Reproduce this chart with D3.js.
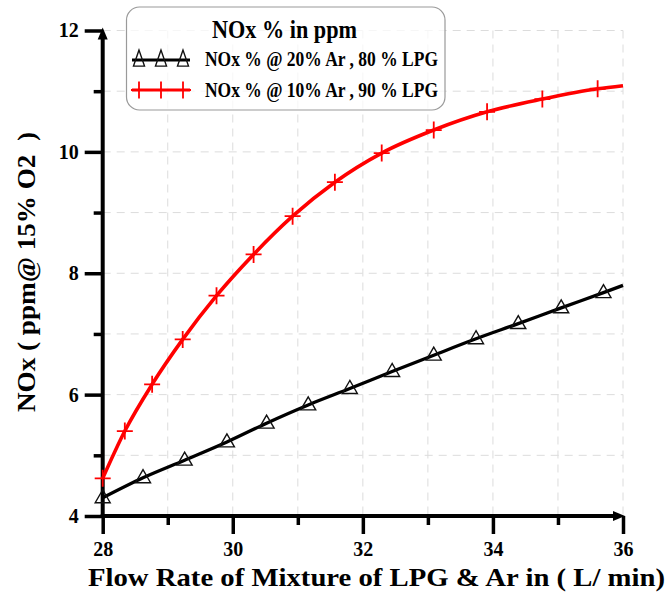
<!DOCTYPE html>
<html>
<head>
<meta charset="utf-8">
<script src="https://cdn.jsdelivr.net/npm/d3@7"></script>
<style>
  html, body { margin: 0; padding: 0; background: #fff; }
  svg { display: block; }
  text { font-family: "Liberation Serif", "Times New Roman", serif; font-weight: bold; fill: #000; }
</style>
</head>
<body>
<svg id="chart" width="671" height="595"></svg>
<script>
// ---- data ----
const xMajorTicks = [28, 30, 32, 34, 36];
const xMinorTicks = [29, 31, 33, 35];
const yMajorTicks = [4, 6, 8, 10, 12];
const yMinorTicks = [5, 7, 9, 11];
const gridX = [29, 30, 31, 32, 33, 34, 35, 36];
const gridY = [5, 6, 7, 8, 9, 10, 11, 12];

const seriesNames = ["NOx % @ 20% Ar , 80 % LPG", "NOx % @ 10% Ar , 90 % LPG"];
const legendTitle = "NOx % in ppm";
const xTitle = "Flow Rate of Mixture of LPG & Ar in ( L/ min)";
const yTitle = "NOx ( ppm@ 15% O2  )";

const flowBlack = [28.0, 28.62, 29.26, 29.91, 30.52, 31.16, 31.80, 32.45, 33.09, 33.74, 34.39, 35.05, 35.70];
const noxBlack  = [4.30, 4.63, 4.92, 5.22, 5.53, 5.83, 6.10, 6.38, 6.65, 6.92, 7.17, 7.43, 7.68];
const flowRed   = [28.0, 28.34, 28.76, 29.23, 29.75, 30.32, 30.92, 31.57, 32.29, 33.09, 33.91, 34.76, 35.61];
const noxRed    = [4.62, 5.40, 6.17, 6.91, 7.63, 8.31, 8.94, 9.50, 9.98, 10.36, 10.66, 10.87, 11.04];
const lineEndFlow = 36;
const lineEndBlack = 7.80;
const lineEndRed = 11.09;

// ---- layout ----
const svg = d3.select("#chart");
const x = d3.scaleLinear().domain([28, 36]).range([102.7, 623]);
const y = d3.scaleLinear().domain([4, 12]).range([516, 30.5]);

// grid
const grid = svg.append("g").attr("stroke", "#dcdcdc").attr("stroke-width", 1).attr("stroke-dasharray", "8,6");
grid.selectAll("line.gx").data(gridX).join("line").attr("class", "gx")
  .attr("x1", d => x(d)).attr("x2", d => x(d)).attr("y1", y(12)).attr("y2", y(4));
grid.selectAll("line.gy").data(gridY).join("line").attr("class", "gy")
  .attr("x1", x(28)).attr("x2", x(36)).attr("y1", d => y(d)).attr("y2", d => y(d));

// axes (ticks via d3 axes)
function styleAxis(g) {
  g.select(".domain").remove();
  g.selectAll(".tick line").attr("stroke", "#000").attr("stroke-width", 3.5);
  g.selectAll(".tick text").style("font-size", "20px").style("font-family", '"Liberation Serif", serif').style("font-weight", "bold");
}
svg.append("g").attr("transform", `translate(0,${y(4)})`)
  .call(d3.axisBottom(x).tickValues(xMajorTicks).tickSize(18).tickPadding(8).tickFormat(d3.format("d")))
  .call(styleAxis);
svg.append("g").attr("transform", `translate(0,${y(4)})`)
  .call(d3.axisBottom(x).tickValues(xMinorTicks).tickSize(9).tickFormat(""))
  .call(styleAxis);
svg.append("g").attr("transform", `translate(${x(28)},0)`)
  .call(d3.axisLeft(y).tickValues(yMajorTicks).tickSize(18).tickPadding(6).tickFormat(d3.format("d")))
  .call(styleAxis);
svg.append("g").attr("transform", `translate(${x(28)},0)`)
  .call(d3.axisLeft(y).tickValues(yMinorTicks).tickSize(9).tickFormat(""))
  .call(styleAxis);

// axis lines with arrows
svg.append("line").attr("x1", x(28)).attr("x2", x(28)).attr("y1", y(4) + 2).attr("y2", y(12) + 6)
  .attr("stroke", "#000").attr("stroke-width", 4);
svg.append("path").attr("d", `M${x(28)},${y(12) - 3} L${x(28) - 5},${y(12) + 9} L${x(28) + 5},${y(12) + 9} Z`).attr("fill", "#000");
svg.append("line").attr("x1", x(28) - 2).attr("x2", x(36) - 6).attr("y1", y(4)).attr("y2", y(4))
  .attr("stroke", "#000").attr("stroke-width", 4);
svg.append("path").attr("d", `M${x(36) + 2},${y(4)} L${x(36) - 10},${y(4) - 5} L${x(36) - 10},${y(4) + 5} Z`).attr("fill", "#000");

// lines
const lineGen = d3.line().x(d => x(d[0])).y(d => y(d[1])).curve(d3.curveMonotoneX);
const blackPts = flowBlack.map((f, i) => [f, noxBlack[i]]).concat([[lineEndFlow, lineEndBlack]]);
const redPts = flowRed.map((f, i) => [f, noxRed[i]]).concat([[lineEndFlow, lineEndRed]]);

svg.append("path").attr("d", lineGen(blackPts)).attr("fill", "none").attr("stroke", "#000").attr("stroke-width", 3.3);
svg.append("path").attr("d", lineGen(redPts)).attr("fill", "none").attr("stroke", "#ff0000").attr("stroke-width", 3.6);

// markers
function triPath(cx, cy, w, h) {
  return `M${cx},${cy - h * 0.62} L${cx - w / 2},${cy + h * 0.38} L${cx + w / 2},${cy + h * 0.38} Z`;
}
function crossPath(cx, cy, w, h) {
  return `M${cx - w / 2},${cy} L${cx + w / 2},${cy} M${cx},${cy - h / 2} L${cx},${cy + h / 2}`;
}
svg.append("g").selectAll("path").data(flowBlack.map((f, i) => [f, noxBlack[i]])).join("path")
  .attr("d", d => triPath(x(d[0]), y(d[1]), 15, 13))
  .attr("fill", "none").attr("stroke", "#111").attr("stroke-width", 1.4);
svg.append("g").selectAll("path").data(flowRed.map((f, i) => [f, noxRed[i]])).join("path")
  .attr("d", d => crossPath(x(d[0]), y(d[1]), 16, 17))
  .attr("fill", "none").attr("stroke", "#ff0000").attr("stroke-width", 1.8);

// legend
const lg = svg.append("g");
lg.append("rect").attr("x", 126.5).attr("y", 7).attr("width", 318.5).attr("height", 103).attr("rx", 13)
  .attr("fill", "#fff").attr("fill-opacity", 0.75).attr("stroke", "#9a9a9a").attr("stroke-width", 1.2);
lg.append("text").attr("x", 284.5).attr("y", 38).attr("text-anchor", "middle")
  .attr("textLength", 145).attr("lengthAdjust", "spacingAndGlyphs")
  .style("font-size", "25px").text(legendTitle);
lg.append("line").attr("x1", 132).attr("x2", 190).attr("y1", 60).attr("y2", 60).attr("stroke", "#000").attr("stroke-width", 3);
lg.selectAll("path.lt").data([139, 161, 183]).join("path").attr("class", "lt")
  .attr("d", d => triPath(d, 60, 11, 16)).attr("fill", "none").attr("stroke", "#111").attr("stroke-width", 1.4);
lg.append("line").attr("x1", 132).attr("x2", 190).attr("y1", 90).attr("y2", 90).attr("stroke", "#ff0000").attr("stroke-width", 3);
lg.selectAll("path.lc").data([139, 161, 183]).join("path").attr("class", "lc")
  .attr("d", d => crossPath(d, 90, 16, 17)).attr("fill", "none").attr("stroke", "#ff0000").attr("stroke-width", 1.8);
lg.selectAll("text.entry").data(seriesNames).join("text").attr("class", "entry")
  .attr("x", 205).attr("y", (d, i) => i === 0 ? 66 : 97)
  .attr("textLength", 233).attr("lengthAdjust", "spacingAndGlyphs")
  .style("font-size", "21px").text(d => d);

// axis titles
svg.append("text").attr("x", 376.5).attr("y", 586).attr("text-anchor", "middle")
  .attr("textLength", 577).attr("lengthAdjust", "spacingAndGlyphs")
  .style("font-size", "25px").text(xTitle);
svg.append("text").attr("transform", "translate(35,272) rotate(-90)").attr("text-anchor", "middle")
  .attr("textLength", 280).attr("lengthAdjust", "spacingAndGlyphs")
  .style("font-size", "26px").style("white-space", "pre").text(yTitle);
</script>
</body>
</html>
